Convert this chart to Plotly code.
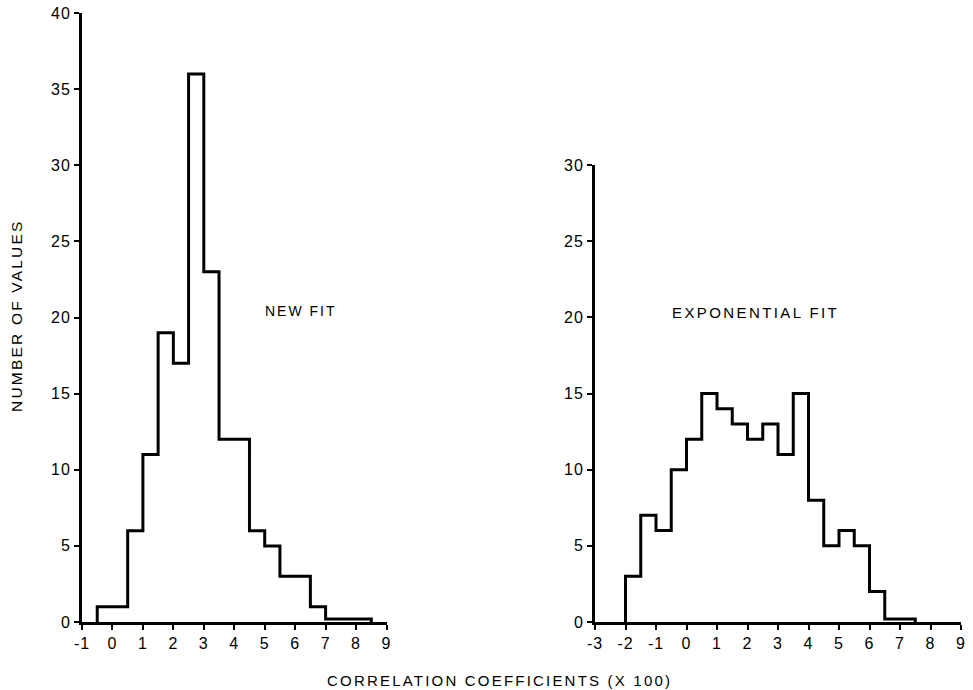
import plotly.graph_objects as go

# ---- data ----
left_edges_start = -0.5
left_bin_width = 0.5
left_counts = [1, 1, 6, 11, 19, 17, 36, 23, 12, 12, 6, 5, 3, 3, 1, 0.2, 0.2, 0.2]

right_edges_start = -2.0
right_bin_width = 0.5
right_counts = [3, 7, 6, 10, 12, 15, 14, 13, 12, 13, 11, 15, 8, 5, 6, 5, 2, 0.2, 0.2]

left_xticks = list(range(-1, 10))
right_xticks = list(range(-3, 10))
left_yticks = list(range(0, 41, 5))
right_yticks = list(range(0, 31, 5))

left_label = "NEW FIT"
right_label = "EXPONENTIAL FIT"
x_title = "CORRELATION COEFFICIENTS (X 100)"
y_title = "NUMBER OF VALUES"


def step_xy(start, width, counts):
    edges = [start + i * width for i in range(len(counts) + 1)]
    xs = [edges[0]] + edges
    ys = [0] + list(counts) + [0]
    return xs, ys


def spaced(text, sp):
    return f'<span style="letter-spacing:{sp}px">{text}</span>'


FONT = "Liberation Sans, Arial, sans-serif"
W, H = 973, 690

lx, ly = step_xy(left_edges_start, left_bin_width, left_counts)
rx, ry = step_xy(right_edges_start, right_bin_width, right_counts)

fig = go.Figure()
fig.add_trace(go.Scatter(x=lx, y=ly, mode="lines", line=dict(color="black", width=3, shape="hv"),
                         xaxis="x", yaxis="y", cliponaxis=False, hoverinfo="skip"))
fig.add_trace(go.Scatter(x=rx, y=ry, mode="lines", line=dict(color="black", width=3, shape="hv"),
                         xaxis="x2", yaxis="y2", cliponaxis=False, hoverinfo="skip"))

axis_common = dict(showgrid=False, zeroline=False, showline=True, linecolor="black", linewidth=3,
                   ticks="outside", ticklen=5, tickwidth=2, tickcolor="black", automargin=False,
                   tickfont=dict(family=FONT, size=16, color="black"))


def px_x(p):
    return p / W


def px_y(p):
    return 1 - p / H


def ticktexts(vals):
    return [spaced(str(v), 1) for v in vals]


fig.update_layout(
    width=W, height=H,
    margin=dict(l=0, r=0, t=0, b=0, autoexpand=False),
    paper_bgcolor="white", plot_bgcolor="white",
    showlegend=False,
    font=dict(family=FONT, color="black"),
    xaxis=dict(domain=[px_x(82), px_x(386.5)], range=[-1, 9], tickvals=left_xticks,
               ticktext=ticktexts(left_xticks), anchor="y", **axis_common),
    yaxis=dict(domain=[px_y(622), px_y(13)], range=[0, 40], tickvals=left_yticks,
               ticktext=ticktexts(left_yticks), anchor="x", **axis_common),
    xaxis2=dict(domain=[px_x(595), px_x(961)], range=[-3, 9], tickvals=right_xticks,
                ticktext=ticktexts(right_xticks), anchor="y2", **axis_common),
    yaxis2=dict(domain=[px_y(622), px_y(165)], range=[0, 30], tickvals=right_yticks,
                ticktext=ticktexts(right_yticks), anchor="x2", **axis_common),
)

fig.add_annotation(x=px_x(263), y=px_y(311), xref="paper", yref="paper", text=spaced(left_label, 2),
                   showarrow=False, xanchor="left", yanchor="middle",
                   font=dict(family=FONT, size=14, color="black"))
fig.add_annotation(x=px_x(670), y=px_y(312), xref="paper", yref="paper", text=spaced(right_label, 2.4),
                   showarrow=False, xanchor="left", yanchor="middle",
                   font=dict(family=FONT, size=15, color="black"))

fig.add_annotation(x=px_x(499), y=px_y(680), xref="paper", yref="paper", text=spaced(x_title, 2.2),
                   showarrow=False, xanchor="center", yanchor="middle",
                   font=dict(family=FONT, size=15, color="black"))
fig.add_annotation(x=px_x(17), y=px_y(316), xref="paper", yref="paper", text=spaced(y_title, 2.2),
                   showarrow=False, xanchor="center", yanchor="middle", textangle=-90,
                   font=dict(family=FONT, size=15.5, color="black"))

fig.write_html("out.html")
